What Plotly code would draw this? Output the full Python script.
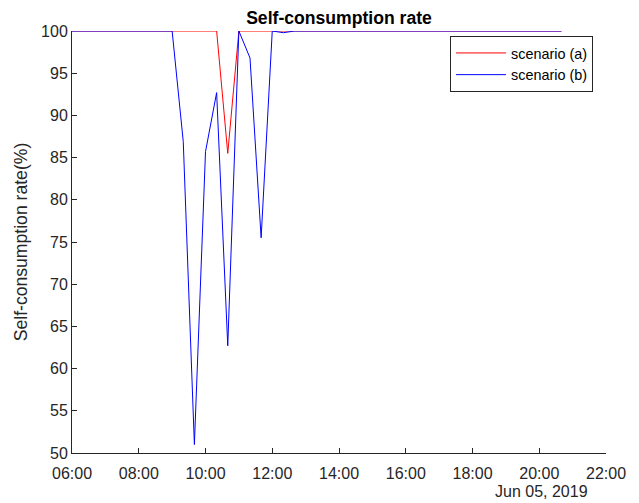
import plotly.graph_objects as go

times = [
    "2019-06-05 06:00", "2019-06-05 06:20", "2019-06-05 06:40",
    "2019-06-05 07:00", "2019-06-05 07:20", "2019-06-05 07:40",
    "2019-06-05 08:00", "2019-06-05 08:20", "2019-06-05 08:40",
    "2019-06-05 09:00", "2019-06-05 09:20", "2019-06-05 09:40",
    "2019-06-05 10:00", "2019-06-05 10:20", "2019-06-05 10:40",
    "2019-06-05 11:00", "2019-06-05 11:20", "2019-06-05 11:40",
    "2019-06-05 12:00", "2019-06-05 12:20", "2019-06-05 12:40",
    "2019-06-05 13:00", "2019-06-05 13:20", "2019-06-05 13:40",
    "2019-06-05 14:00", "2019-06-05 14:20", "2019-06-05 14:40",
    "2019-06-05 15:00", "2019-06-05 15:20", "2019-06-05 15:40",
    "2019-06-05 16:00", "2019-06-05 16:20", "2019-06-05 16:40",
    "2019-06-05 17:00", "2019-06-05 17:20", "2019-06-05 17:40",
    "2019-06-05 18:00", "2019-06-05 18:20", "2019-06-05 18:40",
    "2019-06-05 19:00", "2019-06-05 19:20", "2019-06-05 19:40",
    "2019-06-05 20:00", "2019-06-05 20:20", "2019-06-05 20:40",
]

scenario_a = [
    100, 100, 100, 100, 100, 100, 100, 100, 100,
    100, 100, 100, 100, 100, 85.5, 100, 100, 100,
    100, 100, 100, 100, 100, 100, 100, 100, 100,
    100, 100, 100, 100, 100, 100, 100, 100, 100,
    100, 100, 100, 100, 100, 100, 100, 100, 100,
]

scenario_b = [
    100, 100, 100, 100, 100, 100, 100, 100, 100,
    100, 86.9, 51.0, 85.7, 92.7, 62.7, 100, 96.8, 75.5,
    100, 99.8, 100, 100, 100, 100, 100, 100, 100,
    100, 100, 100, 100, 100, 100, 100, 100, 100,
    100, 100, 100, 100, 100, 100, 100, 100, 100,
]

series_names = ["scenario (a)", "scenario (b)"]
title_text = "Self-consumption rate"
y_title = "Self-consumption rate(%)"
date_label = "Jun 05, 2019"

FONT = "Liberation Sans, Arial, Helvetica, sans-serif"
AX = "#262626"

fig = go.Figure()
fig.add_trace(go.Scatter(x=times, y=scenario_a, mode="lines", name=series_names[0],
                         line=dict(color="#ff0000", width=1)))
fig.add_trace(go.Scatter(x=times, y=scenario_b, mode="lines", name=series_names[1],
                         line=dict(color="#0000ff", width=1)))

# page body has an 8px margin; figure is sized/positioned to compensate
fig.update_layout(
    width=631, height=495,
    margin=dict(l=64, r=33, t=23, b=50),
    paper_bgcolor="white", plot_bgcolor="white",
    font=dict(family=FONT, size=16, color=AX),
    title=dict(text="<b>" + title_text + "</b>", x=0.5, xanchor="center", xref="paper",
               y=1 - 9.5 / 495, yanchor="middle", yref="container",
               font=dict(size=17.6, color="black")),
    showlegend=True,
    legend=dict(x=0.9757, xanchor="right", y=0.988, yanchor="top",
                bgcolor="white", bordercolor=AX, borderwidth=1,
                font=dict(size=14.4, color="black"), tracegroupgap=0,
                itemwidth=50),
    xaxis=dict(
        type="date",
        range=["2019-06-05 06:00", "2019-06-05 22:00"],
        dtick=7200000, tick0="2019-06-05 06:00", tickformat="%H:%M",
        ticks="inside", ticklen=5, tickcolor=AX, tickwidth=1,
        showline=True, linecolor=AX, linewidth=1, mirror=False,
        showgrid=False, zeroline=False,
        tickfont=dict(size=16, color=AX), ticklabelstandoff=6,
    ),
    yaxis=dict(
        range=[50, 100], dtick=5, tick0=50,
        ticks="inside", ticklen=5, tickcolor=AX, tickwidth=1,
        showline=True, linecolor=AX, linewidth=1, mirror=False,
        showgrid=False, zeroline=False,
        tickfont=dict(size=16, color=AX), ticklabelstandoff=0,
        title=dict(text=y_title, font=dict(size=17.6, color=AX), standoff=8),
    ),
    annotations=[dict(text=date_label, xref="paper", yref="paper",
                      x=0.970, y=-0.0924, xanchor="right", yanchor="middle",
                      showarrow=False, font=dict(size=16, color=AX))],
)

fig.write_html("out.html")
